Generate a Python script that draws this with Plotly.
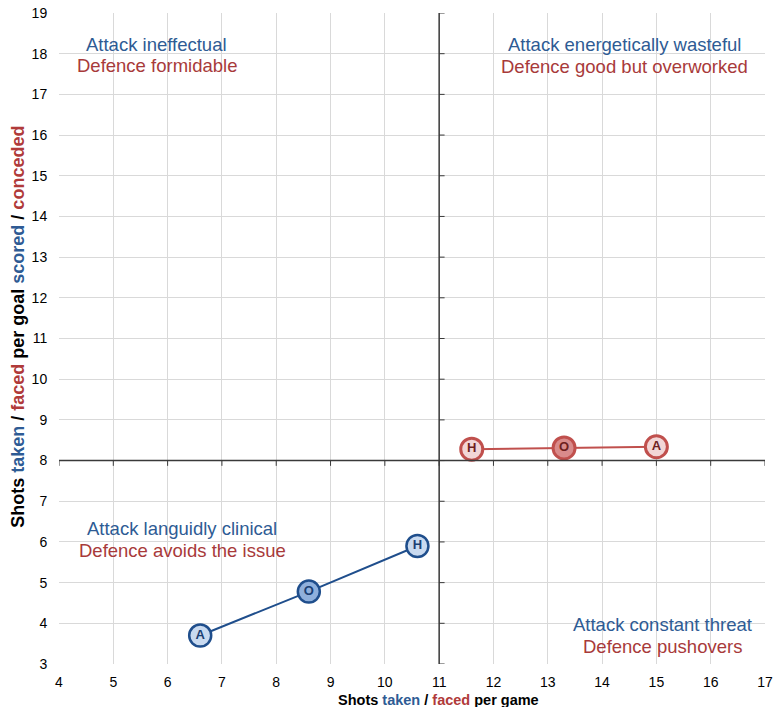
import plotly.graph_objects as go

# Data
venue_labels = ["A", "O", "H"]
attack_shots = [6.6, 8.6, 10.6]
attack_per_goal = [3.7, 4.78, 5.9]
defence_labels = ["H", "O", "A"]
defence_shots = [11.6, 13.3, 15.0]
defence_per_goal = [8.28, 8.31, 8.34]

x_ticks = list(range(4, 18))
y_ticks = list(range(3, 20))
x_cross = 11
y_cross = 8

BLUE = "#1f4e8c"
BLUE_TXT = "#2e5b94"
RED = "#c0504d"
RED_TXT = "#a83a3a"
FONT = "Liberation Sans, Arial, sans-serif"

fig = go.Figure()

fig.add_trace(go.Scatter(
    x=attack_shots, y=attack_per_goal, mode="lines+markers+text",
    text=["<b>%s</b>" % t for t in venue_labels], textposition="middle center",
    textfont=dict(family=FONT, size=13, color="#1a3f73"),
    line=dict(color=BLUE, width=2),
    marker=dict(size=22, color=["#c9daf0", "#8fb0dc", "#c9daf0"],
                line=dict(color=BLUE, width=2.5)),
    showlegend=False, hoverinfo="skip"))

fig.add_trace(go.Scatter(
    x=defence_shots, y=defence_per_goal, mode="lines+markers+text",
    text=["<b>%s</b>" % t for t in defence_labels], textposition="middle center",
    textfont=dict(family=FONT, size=13, color="#6e1f1f"),
    line=dict(color=RED, width=2),
    marker=dict(size=22, color=["#f2d6d6", "#d98b8b", "#f2d6d6"],
                line=dict(color=RED, width=3)),
    showlegend=False, hoverinfo="skip"))

shapes = [
    dict(type="line", xref="x", yref="y", x0=x_cross, x1=x_cross,
         y0=y_ticks[0], y1=y_ticks[-1], line=dict(color="#3a3a3a", width=1.5), layer="above"),
    dict(type="line", xref="x", yref="y", x0=x_ticks[0], x1=x_ticks[-1],
         y0=y_cross, y1=y_cross, line=dict(color="#3a3a3a", width=1.5), layer="above"),
]
for xt in x_ticks:
    shapes.append(dict(type="line", xref="x", yref="y", x0=xt, x1=xt,
                       y0=y_cross - 0.13, y1=y_cross, line=dict(color="#3a3a3a", width=1), layer="above"))
for yt in y_ticks:
    shapes.append(dict(type="line", xref="x", yref="y", x0=x_cross, x1=x_cross + 0.1,
                       y0=yt, y1=yt, line=dict(color="#3a3a3a", width=1), layer="above"))

quadrants = [
    (5.8, 18.22, 17.72, "Attack ineffectual", "Defence formidable"),
    (14.42, 18.22, 17.68, "Attack energetically wasteful", "Defence good but overworked"),
    (6.27, 6.32, 5.78, "Attack languidly clinical", "Defence avoids the issue"),
    (15.12, 3.98, 3.44, "Attack constant threat", "Defence pushovers"),
]
annotations = []
for qx, ya, yd, ta, td in quadrants:
    annotations.append(dict(x=qx, y=ya, xref="x", yref="y", text=ta, showarrow=False,
                            font=dict(family=FONT, size=18.5, color=BLUE_TXT)))
    annotations.append(dict(x=qx, y=yd, xref="x", yref="y", text=td, showarrow=False,
                            font=dict(family=FONT, size=18.5, color=RED_TXT)))

x_title = ("<b>Shots <span style='color:#2e5b94'>taken</span> / "
           "<span style='color:#b03a3a'>faced</span> per game</b>")
y_title = ("<b>Shots <span style='color:#2e5b94'>taken</span> / "
           "<span style='color:#b03a3a'>faced</span> per goal "
           "<span style='color:#2e5b94'>scored</span> / "
           "<span style='color:#b03a3a'>conceded</span></b>")
annotations.append(dict(text=x_title, xref="paper", yref="paper", x=0.538, y=0,
                        yshift=-36, xanchor="center", yanchor="middle", showarrow=False,
                        font=dict(family=FONT, size=14.5, color="#000000")))
annotations.append(dict(text=y_title, xref="paper", yref="paper", x=0, y=0.518,
                        xshift=-41, xanchor="center", yanchor="middle", textangle=-90,
                        showarrow=False, font=dict(family=FONT, size=18, color="#000000")))

fig.update_layout(
    width=774, height=707,
    margin=dict(l=59, r=9, t=13, b=43, autoexpand=False),
    paper_bgcolor="white", plot_bgcolor="white",
    font=dict(family=FONT, size=14, color="#000000"),
    shapes=shapes, annotations=annotations,
    xaxis=dict(range=[x_ticks[0], x_ticks[-1]], tickvals=x_ticks, showgrid=True,
               gridcolor="#d9d9d9", gridwidth=1, zeroline=False, showline=False,
               ticks="outside", ticklen=5, tickcolor="rgba(0,0,0,0)",
               ticklabeloverflow="allow",
               tickfont=dict(size=14, family=FONT), automargin=False),
    yaxis=dict(range=[y_ticks[0], y_ticks[-1]], tickvals=y_ticks, showgrid=True,
               gridcolor="#d9d9d9", gridwidth=1, zeroline=False, showline=False,
               ticks="outside", ticklen=8, tickcolor="rgba(0,0,0,0)",
               ticklabeloverflow="allow",
               tickfont=dict(size=14, family=FONT), automargin=False),
)

# remove the browser's default body margin so the 774x707 figure fills the window exactly
fig.write_html("out.html", config={"displayModeBar": False},
               post_script="document.body.style.margin='0';document.body.style.overflow='hidden';")
